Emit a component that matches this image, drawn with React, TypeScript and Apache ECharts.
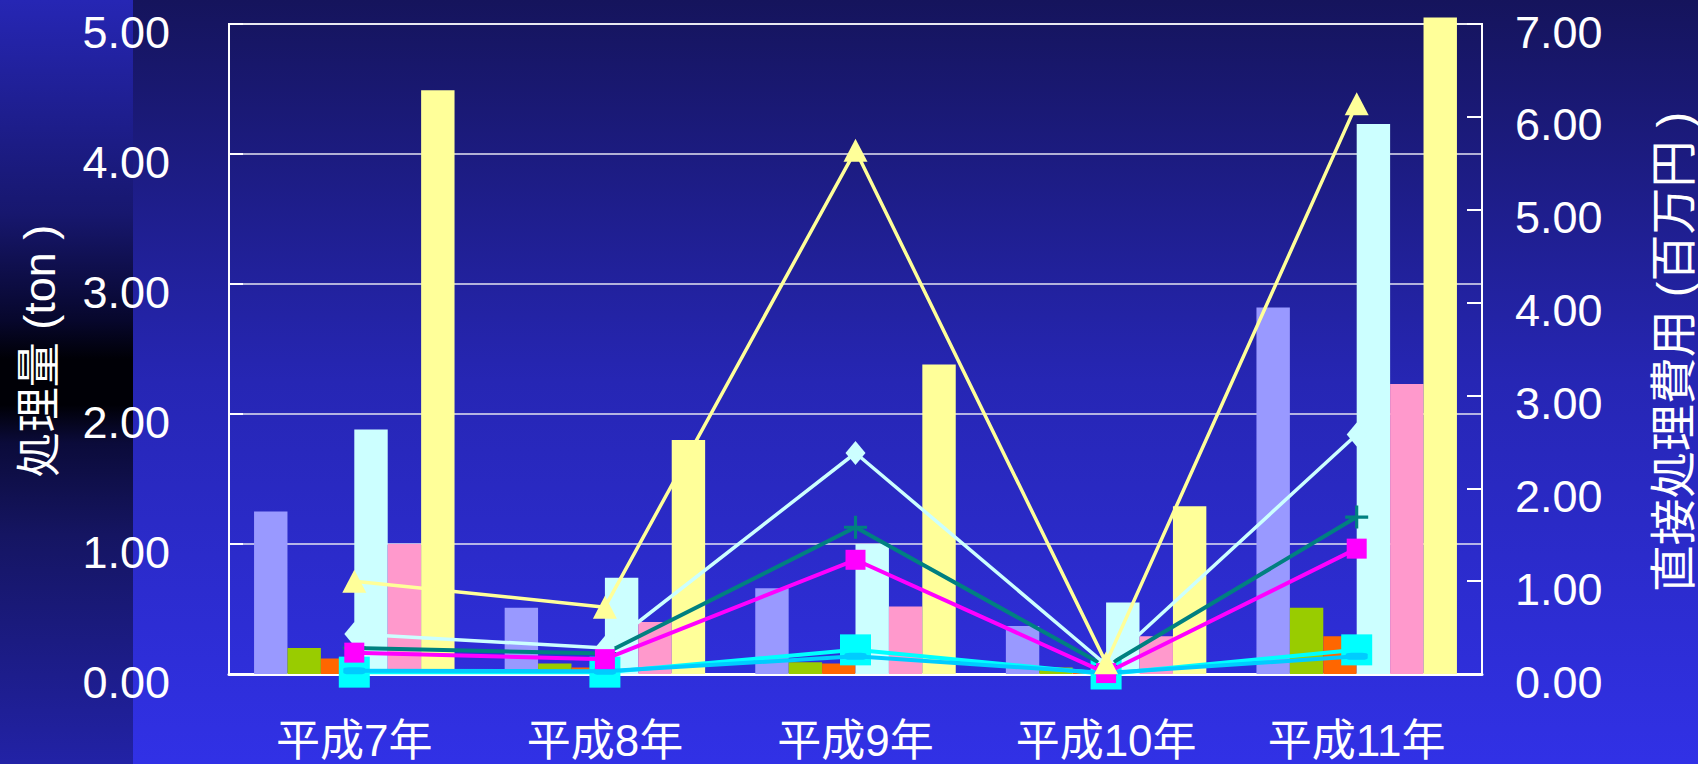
import React, { useEffect, useRef } from "react";
import * as echarts from "echarts";

const categories = ["平成7年", "平成8年", "平成9年", "平成10年", "平成11年"];

// 処理量 (ton) — bars, left axis
const lavenderBar = [1.25, 0.51, 0.66, 0.37, 2.82];
const greenBar = [0.2, 0.08, 0.09, 0.05, 0.51];
const orangeBar = [0.12, 0.05, 0.08, 0.02, 0.29];
const lightCyanBar = [1.88, 0.74, 1.0, 0.55, 4.23];
const pinkBar = [1.0, 0.4, 0.52, 0.29, 2.23];
const yellowBar = [4.49, 1.8, 2.38, 1.29, 5.05];

// 直接処理費用 (百万円) — lines, right axis
const cyanLine = [0.02, 0.02, 0.26, 0.0, 0.26];
const blueLine = [0.035, 0.03, 0.19, 0.01, 0.19];
const tealLine = [0.28, 0.22, 1.58, 0.08, 1.69];
const diamondLine = [0.43, 0.28, 2.38, 0.1, 2.58];
const magentaLine = [0.23, 0.16, 1.23, 0.01, 1.35];
const yellowLine = [1.0, 0.72, 5.64, 0.12, 6.14];

const leftTicks = [0, 5, 1];
const rightTicks = [0, 7, 1];

const FONT = "'Liberation Sans', 'Noto Sans CJK JP', sans-serif";

export default function App() {
  const ref = useRef<HTMLDivElement>(null);

  useEffect(() => {
    if (!ref.current) return;
    const chart = echarts.init(ref.current, undefined, { renderer: "svg" });

    const bar = (name: string, data: number[], color: string) => ({
      name,
      type: "bar",
      yAxisIndex: 0,
      data,
      barGap: "0%",
      barCategoryGap: "20%",
      clip: false,
      itemStyle: { color },
      z: 2,
    });

    const line = (
      name: string,
      data: number[],
      color: string,
      width: number,
      symbol: string,
      symbolSize: any,
      z: number
    ) => ({
      name,
      type: "line",
      yAxisIndex: 1,
      data,
      symbol,
      symbolSize,
      showSymbol: true,
      showAllSymbol: true,
      clip: false,
      lineStyle: { color, width },
      itemStyle: { color, borderWidth: 0 },
      z,
    });

    const tickLabel = (margin: number) => ({
      color: "#ffffff",
      fontSize: 45,
      margin,
      fontFamily: FONT,
      formatter: (v: number) => `{a|${v.toFixed(2)}}`,
      rich: {
        a: {
          color: "#ffffff",
          fontSize: 45,
          fontFamily: FONT,
          padding: [16, 0, 0, 0],
        },
      },
    });

    const option: any = {
      animation: false,
      backgroundColor: new echarts.graphic.LinearGradient(0, 0, 0, 1, [
        { offset: 0, color: "#15145c" },
        { offset: 0.5, color: "#2626b4" },
        { offset: 1, color: "#3131e6" },
      ]),
      textStyle: { fontFamily: FONT },
      graphic: [
        {
          type: "rect",
          z: -10,
          silent: true,
          shape: { x: 0, y: 0, width: 133, height: 764 },
          style: {
            fill: new echarts.graphic.LinearGradient(0, 0, 0, 1, [
              { offset: 0, color: "#2626b4" },
              { offset: 0.28, color: "#17176e" },
              { offset: 0.42, color: "#07072c" },
              { offset: 0.47, color: "#000006" },
              { offset: 0.53, color: "#000006" },
              { offset: 0.58, color: "#0b0b3a" },
              { offset: 0.7, color: "#151562" },
              { offset: 1, color: "#2222a6" },
            ]),
          },
        },
        {
          type: "text",
          x: 39,
          y: 351,
          rotation: Math.PI / 2,
          z: 10,
          style: {
            text: "処理量 (ton )",
            fill: "#ffffff",
            fontSize: 45,
            fontFamily: FONT,
            align: "center",
            verticalAlign: "middle",
          },
        },
        {
          type: "text",
          x: 1673,
          y: 352,
          rotation: Math.PI / 2,
          z: 10,
          style: {
            text: "直接処理費用 (百万円 )",
            fill: "#ffffff",
            fontSize: 47,
            fontFamily: FONT,
            align: "center",
            verticalAlign: "middle",
          },
        },
      ],
      grid: {
        left: 229,
        top: 24,
        width: 1253,
        height: 650,
        show: true,
        borderColor: "#f4f4f0",
        borderWidth: 2,
        backgroundColor: "transparent",
      },
      xAxis: {
        type: "category",
        data: categories,
        axisLine: { show: true, lineStyle: { color: "#ffffff", width: 3 } },
        axisTick: { show: false },
        axisLabel: { color: "#ffffff", fontSize: 44, margin: 44, fontFamily: FONT },
      },
      yAxis: [
        {
          type: "value",
          position: "left",
          min: leftTicks[0],
          max: leftTicks[1],
          interval: leftTicks[2],
          axisLine: { show: true, lineStyle: { color: "#ffffff", width: 2 } },
          axisTick: { show: true, inside: true, length: 14, lineStyle: { color: "#ffffff", width: 2 } },
          splitLine: { show: true, lineStyle: { color: "#e4e4f0", width: 1.5 } },
          axisLabel: tickLabel(59),
        },
        {
          type: "value",
          position: "right",
          min: rightTicks[0],
          max: rightTicks[1],
          interval: rightTicks[2],
          axisLine: { show: true, lineStyle: { color: "#ffffff", width: 2 } },
          axisTick: { show: true, inside: true, length: 15, lineStyle: { color: "#ffffff", width: 2 } },
          splitLine: { show: false },
          axisLabel: tickLabel(33),
        },
      ],
      series: [
        bar("処理量1", lavenderBar, "#9999ff"),
        bar("処理量2", greenBar, "#99cc00"),
        bar("処理量3", orangeBar, "#ff6600"),
        bar("処理量4", lightCyanBar, "#ccffff"),
        bar("処理量5", pinkBar, "#ff99cc"),
        bar("処理量6", yellowBar, "#ffff99"),
        line("費用1", cyanLine, "#00ffff", 4, "rect", 31, 3),
        line("費用2", blueLine, "#00ccff", 4, "roundRect", [22, 7], 4),
        line("費用3", tealLine, "#008080", 4, "path://M9.5,0h3v22h-3zM0,9.5h22v3h-22z", 23, 5),
        line("費用4", diamondLine, "#ccffff", 3.5, "diamond", [20, 24], 6),
        line("費用5", magentaLine, "#ff00ff", 4, "rect", 20, 7),
        line("費用6", yellowLine, "#ffff99", 3.5, "triangle", [24, 23], 8),
      ],
    };

    chart.setOption(option);
    return () => chart.dispose();
  }, []);

  return (
    <div
      ref={ref}
      style={{ position: "fixed", left: 0, top: 0, width: 1698, height: 764 }}
    />
  );
}
